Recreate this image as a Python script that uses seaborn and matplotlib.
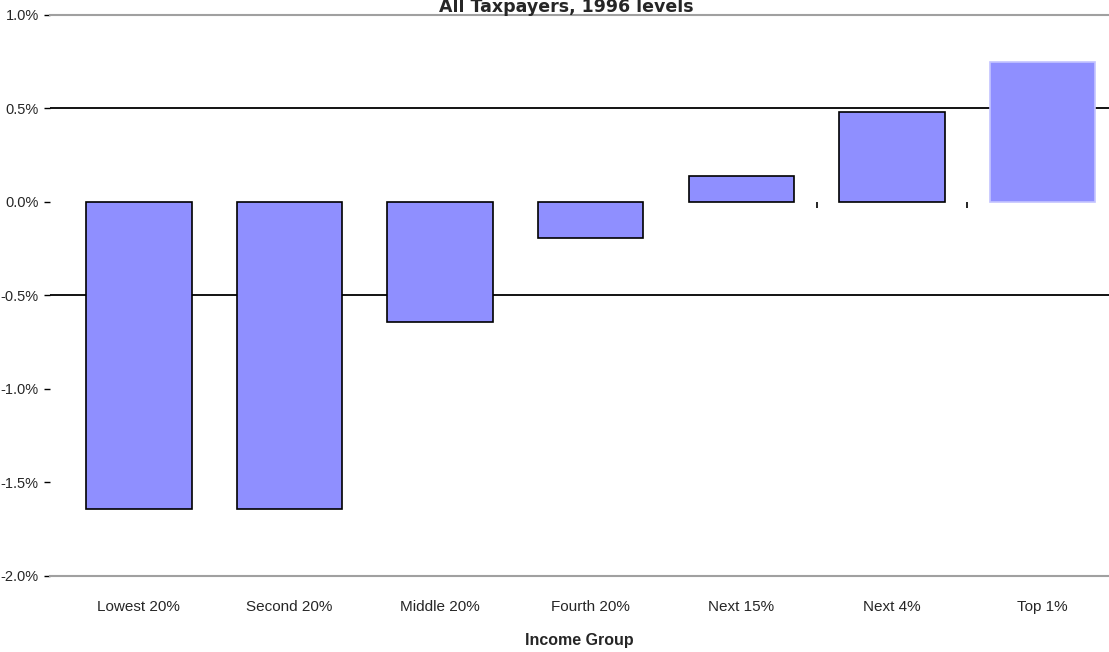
import matplotlib
matplotlib.use("Agg")
import matplotlib.pyplot as plt
import seaborn as sns
import pandas as pd

# data
groups = ["Lowest 20%", "Second 20%", "Middle 20%", "Fourth 20%",
          "Next 15%", "Next 4%", "Top 1%"]
change = [-1.64, -1.64, -0.64, -0.19, 0.14, 0.48, 0.75]
y_ticks = [1.0, 0.5, 0.0, -0.5, -1.0, -1.5, -2.0]
grid_at = [0.5, -0.5]

sns.set_theme(style="white")
plt.rcParams["font.family"] = ["Liberation Sans Narrow", "Liberation Sans", "DejaVu Sans"]

df = pd.DataFrame({"group": groups, "change": change})

fig = plt.figure(figsize=(11.09, 6.52), dpi=100)
ax = fig.add_axes([0.045, 0.1166, 0.955, 0.8604])

for g in grid_at:
    ax.axhline(g, color="black", lw=1.3, zorder=0)

sns.barplot(data=df, x="group", y="change", color="#8f8fff", saturation=1,
            width=0.7, edgecolor="black", linewidth=1.2, ax=ax, zorder=2)
# top bar has no dark outline in the original
ax.patches[-1].set_edgecolor("#c4c4ff")

# small ticks on the zero line between the upper bars
ax.vlines([4.5, 5.5], -0.03, 0.0, color="black", lw=1.2, zorder=1)

ax.set_ylim(-2.0, 1.0)
ax.set_xlim(-0.59, 6.44)
ax.set_yticks(y_ticks)
ax.set_yticklabels([f"{v:.1f}%" for v in y_ticks], fontsize=10.5)
ax.tick_params(axis="y", length=4, width=1, color="black", pad=4, left=True)
ax.tick_params(axis="x", length=0, pad=17, labelsize=11)

for side in ["left", "right"]:
    ax.spines[side].set_visible(False)
for side in ["top", "bottom"]:
    ax.spines[side].set_color("#a0a0a0")
    ax.spines[side].set_linewidth(1.5)

ax.set_ylabel("")
ax.set_xlabel("Income Group", fontsize=11.5, fontweight="bold", labelpad=14)

fig.text(0.511, 1 - 12.5 / 652, "All Taxpayers, 1996 levels", ha="center",
         va="baseline", fontsize=12.5, fontweight="bold",
         family=["DejaVu Sans"])

fig.savefig("out.png", dpi=100)
